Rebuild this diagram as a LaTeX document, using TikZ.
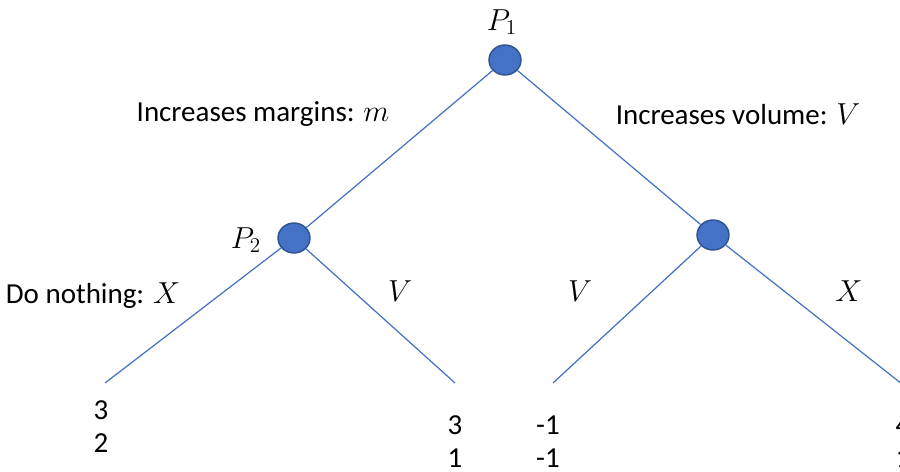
\documentclass[tikz,border=0pt]{standalone}
\usepackage{fontspec}
\setmainfont{Carlito}
\usetikzlibrary{positioning, shapes.geometric}
\definecolor{offblue}{HTML}{4472C4}
\definecolor{offdark}{HTML}{2F528F}
\begin{document}
\begin{tikzpicture}[
    x=0.02cm, y=-0.02cm,
    decision/.style={ellipse, draw=offdark, fill=offblue, line width=0.8pt, minimum width=0.64cm, minimum height=0.6cm, inner sep=0pt},
    branch/.style={draw=offblue, line width=0.7pt},
    lbl/.style={font=\fontsize{16.5}{19}\selectfont, inner sep=1pt},
    payoff/.style={lbl, align=center, font=\fontsize{16.5}{18.7}\selectfont}
]
    \useasboundingbox (0,0) rectangle (900,471);

    % Decision nodes
    \node[decision] (p1) at (505,60) {};
    \node[decision] (p2) at (294,238) {};
    \node[decision] (p3) at (713,235) {};

    % Leaves
    \coordinate (l1) at (105,383);
    \coordinate (l2) at (455,383);
    \coordinate (l3) at (553,383);
    \coordinate (l4) at (902,384);

    % Branches
    \draw[branch] (p1) -- (p2);
    \draw[branch] (p1) -- (p3);
    \draw[branch] (p2) -- (l1);
    \draw[branch] (p2) -- (l2);
    \draw[branch] (p3) -- (l3);
    \draw[branch] (p3) -- (l4);

    % Player labels
    \node[lbl] (n1) at (502,22) {$P_1$};
    \node[lbl] (n2) at (246,240) {$P_2$};

    % Move labels
    \node[lbl] (margins) at (263,114) {Increases margins: $m$};
    \node[lbl] (volume) at (738,114) {Increases volume: $V$};
    \node[lbl] (nothing) at (93,296) {Do nothing: $X$};
    \node[lbl] (v1) at (400,291) {$V$};
    \node[lbl] (v2) at (580,291) {$V$};
    \node[lbl] (x2) at (849,291) {$X$};

    % Payoffs
    \node[payoff] (pay1) at (101,427) {3\\2};
    \node[payoff] (pay2) at (455,442) {3\\1};
    \node[payoff] (pay3) at (548,442) {-1\\-1};
    \node[payoff] (pay4) at (903,442) {4\\1};
\end{tikzpicture}
\end{document}
